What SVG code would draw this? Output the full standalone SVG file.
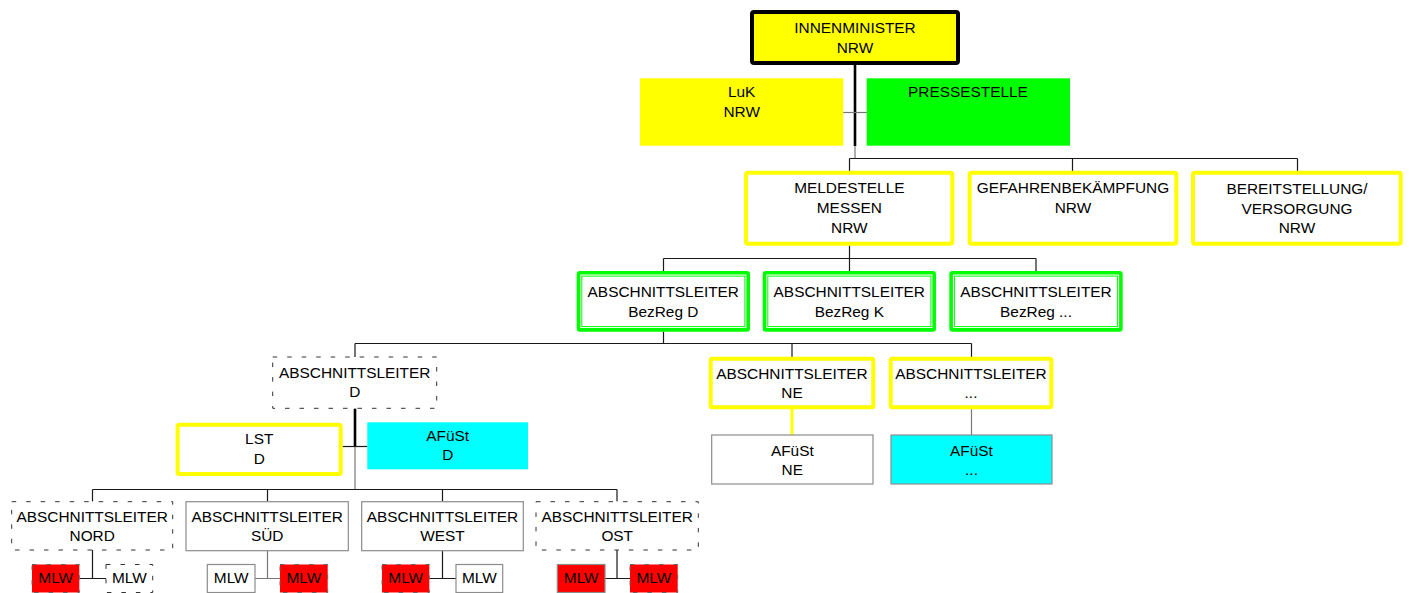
<svg xmlns="http://www.w3.org/2000/svg" width="1409" height="593" viewBox="0 0 1409 593">
  <style>
    text { font-family: "Liberation Sans", Arial, sans-serif; font-size: 15.4px; fill: #000; text-anchor: middle; }
    .ln { stroke: #1a1a1a; stroke-width: 1.2; fill: none; }
    .ln-grey { stroke: #777; stroke-width: 1.2; fill: none; }
    .ln-bold { stroke: #000; stroke-width: 2.6; fill: none; }
    .ln-yellow { stroke: #ffff00; stroke-width: 3; fill: none; }
    .top { fill: #ffff00; stroke: #000; stroke-width: 4; }
    .yellow-fill { fill: #ffff00; }
    .green-fill { fill: #00ff00; }
    .cyan-fill { fill: #00ffff; }
    .yellow-frame { fill: #fff; stroke: #ffff00; stroke-width: 4; }
    .green-outer { fill: #fff; stroke: #00ff00; stroke-width: 3.6; }
    .green-inner { fill: none; stroke: #00ff00; stroke-width: 1; }
    .dashed { fill: #fff; stroke: #333; stroke-width: 1; stroke-dasharray: 4.5 10; }
    .plain { fill: #fff; stroke: #8c8c8c; stroke-width: 1.2; }
    .cyan-box { fill: #00ffff; stroke: #8c8c8c; stroke-width: 1.2; }
    .red-dashed { fill: #ff0000; stroke: #666; stroke-width: 1; stroke-dasharray: 4.5 10; }
    .red-plain { fill: #ff0000; stroke: #8c8c8c; stroke-width: 1.2; }
  </style>

  <!-- connectors -->
  <g id="connectors">
    <!-- minister trunk -->
    <path class="ln-bold" d="M855 65 V146"/>
    <path class="ln-grey" d="M855 146 V158.5"/>
    <path class="ln-grey" d="M843 112.5 H867"/>
    <path class="ln" d="M849.5 158.5 H1297.5 M849.5 158.5 V171 M1072.5 158.5 V171 M1297.5 158.5 V171"/>
    <!-- Meldestelle to district leaders -->
    <path class="ln" d="M849.5 245.5 V258.5 M663.5 258.5 H1036 M663.5 258.5 V271 M849.5 258.5 V271 M1036 258.5 V271"/>
    <!-- BezReg D to section leaders -->
    <path class="ln" d="M663.5 331.5 V343.5 M355 343.5 H971.5 M355 343.5 V357 M792 343.5 V357 M971.5 343.5 V357"/>
    <!-- section D trunk -->
    <path class="ln-bold" d="M355 408.5 V446"/>
    <path class="ln-grey" d="M355 446 V489.5"/>
    <path class="ln" d="M342.5 446.5 H367.5"/>
    <path class="ln" d="M92.5 489.5 H617 M92.5 489.5 V501.5 M267.5 489.5 V501.5 M442.5 489.5 V501.5 M617 489.5 V501.5"/>
    <!-- NE / ... to AFüSt -->
    <path class="ln-yellow" d="M792 409 V435"/>
    <path class="ln-grey" d="M971.5 409 V435"/>
    <!-- sections to MLW -->
    <path class="ln" d="M92.5 550 V578.5 M79.5 578.5 H106"/>
    <path class="ln-grey" d="M267.5 550.5 V578.5 M255 578.5 H280"/>
    <path class="ln" d="M442.5 550.5 V578.5 M429.5 578.5 H456"/>
    <path class="ln" d="M617 550 V578.5 M605 578.5 H630"/>
  </g>

  <g id="innenminister">
    <rect class="top" x="752" y="12" width="206" height="51" rx="2"/>
    <text x="855" y="33.3">INNENMINISTER</text>
    <text x="855" y="53.3">NRW</text>
  </g>

  <g id="luk">
    <rect class="yellow-fill" x="640" y="78.3" width="203.3" height="67.4"/>
    <text x="741.7" y="97.3">LuK</text>
    <text x="741.7" y="117.3">NRW</text>
  </g>

  <g id="pressestelle">
    <rect class="green-fill" x="866.7" y="78.3" width="203.3" height="67.4"/>
    <text x="968" y="97.3">PRESSESTELLE</text>
  </g>

  <g id="meldestelle">
    <rect class="yellow-frame" x="746" y="172.7" width="206.3" height="71" rx="2"/>
    <text x="849.3" y="193">MELDESTELLE</text>
    <text x="849.3" y="213">MESSEN</text>
    <text x="849.3" y="233">NRW</text>
  </g>

  <g id="gefahrenbekaempfung">
    <rect class="yellow-frame" x="969.7" y="172.7" width="206.6" height="71" rx="2"/>
    <text x="1073" y="193">GEFAHRENBEKÄMPFUNG</text>
    <text x="1073" y="213">NRW</text>
  </g>

  <g id="bereitstellung">
    <rect class="yellow-frame" x="1193" y="172.7" width="207.7" height="71" rx="2"/>
    <text x="1297" y="193.5">BEREITSTELLUNG/</text>
    <text x="1297" y="213.5">VERSORGUNG</text>
    <text x="1297" y="233">NRW</text>
  </g>

  <g id="bezreg-d">
    <rect class="green-outer" x="578.5" y="272.8" width="169.7" height="57.1" rx="1.5"/>
    <rect class="green-inner" x="581.8" y="276.1" width="163.1" height="50.5"/>
    <text x="663.3" y="296.7">ABSCHNITTSLEITER</text>
    <text x="663.3" y="316.7">BezReg D</text>
  </g>

  <g id="bezreg-k">
    <rect class="green-outer" x="764.5" y="272.8" width="169.7" height="57.1" rx="1.5"/>
    <rect class="green-inner" x="767.8" y="276.1" width="163.1" height="50.5"/>
    <text x="849.3" y="296.7">ABSCHNITTSLEITER</text>
    <text x="849.3" y="316.7">BezReg K</text>
  </g>

  <g id="bezreg-more">
    <rect class="green-outer" x="951.1" y="272.8" width="169.8" height="57.1" rx="1.5"/>
    <rect class="green-inner" x="954.4" y="276.1" width="163.2" height="50.5"/>
    <text x="1036" y="296.7">ABSCHNITTSLEITER</text>
    <text x="1036" y="316.7">BezReg ...</text>
  </g>

  <g id="abschnitt-d">
    <rect class="dashed" x="272.7" y="357" width="164" height="51.3"/>
    <text x="354.7" y="378.3">ABSCHNITTSLEITER</text>
    <text x="354.7" y="397.3">D</text>
  </g>

  <g id="abschnitt-ne">
    <rect class="yellow-frame" x="710.7" y="358.7" width="162.6" height="48.6" rx="1.5"/>
    <text x="792" y="378.5">ABSCHNITTSLEITER</text>
    <text x="792" y="397.5">NE</text>
  </g>

  <g id="abschnitt-more">
    <rect class="yellow-frame" x="890.7" y="358.7" width="160.6" height="48.6" rx="1.5"/>
    <text x="971" y="378.5">ABSCHNITTSLEITER</text>
    <text x="971" y="397.5">...</text>
  </g>

  <g id="afuest-ne">
    <rect class="plain" x="711.7" y="435" width="161.3" height="49"/>
    <text x="792.3" y="456">AFüSt</text>
    <text x="792.3" y="474.5">NE</text>
  </g>

  <g id="afuest-more">
    <rect class="cyan-box" x="891" y="435" width="161" height="49"/>
    <text x="971.5" y="456">AFüSt</text>
    <text x="971.5" y="474.5">...</text>
  </g>

  <g id="lst-d">
    <rect class="yellow-frame" x="177.7" y="424.7" width="163" height="49.3" rx="1.5"/>
    <text x="259.2" y="444">LST</text>
    <text x="259.2" y="464">D</text>
  </g>

  <g id="afuest-d">
    <rect class="cyan-fill" x="367.3" y="422.3" width="160.7" height="47"/>
    <text x="447.7" y="441">AFüSt</text>
    <text x="447.7" y="460">D</text>
  </g>

  <g id="abschnitt-nord">
    <rect class="dashed" x="11.7" y="501.7" width="161" height="48.3"/>
    <text x="92.2" y="521.7">ABSCHNITTSLEITER</text>
    <text x="92.2" y="540.7">NORD</text>
  </g>

  <g id="abschnitt-sued">
    <rect class="plain" x="186" y="501.7" width="162.3" height="49"/>
    <text x="267.2" y="521.7">ABSCHNITTSLEITER</text>
    <text x="267.2" y="540.7">SÜD</text>
  </g>

  <g id="abschnitt-west">
    <rect class="plain" x="361.7" y="501.7" width="161.6" height="49"/>
    <text x="442.5" y="521.7">ABSCHNITTSLEITER</text>
    <text x="442.5" y="540.7">WEST</text>
  </g>

  <g id="abschnitt-ost">
    <rect class="dashed" x="536" y="501.7" width="162.3" height="48.3"/>
    <text x="617.2" y="521.7">ABSCHNITTSLEITER</text>
    <text x="617.2" y="540.7">OST</text>
  </g>

  <!-- MLW units -->
  <g id="mlw-nord-1">
    <rect class="red-dashed" x="32" y="564.5" width="47.3" height="28"/>
    <text x="55.7" y="583.3">MLW</text>
  </g>
  <g id="mlw-nord-2">
    <rect class="dashed" x="106" y="564.5" width="46.7" height="28"/>
    <text x="129.3" y="583.3">MLW</text>
  </g>
  <g id="mlw-sued-1">
    <rect class="plain" x="207.3" y="564.5" width="47.7" height="28"/>
    <text x="231.2" y="583.3">MLW</text>
  </g>
  <g id="mlw-sued-2">
    <rect class="red-dashed" x="280" y="564.5" width="47.7" height="28"/>
    <text x="303.8" y="583.3">MLW</text>
  </g>
  <g id="mlw-west-1">
    <rect class="red-dashed" x="382" y="564.5" width="47.3" height="28"/>
    <text x="405.7" y="583.3">MLW</text>
  </g>
  <g id="mlw-west-2">
    <rect class="plain" x="456" y="564.5" width="46.7" height="28"/>
    <text x="479.3" y="583.3">MLW</text>
  </g>
  <g id="mlw-ost-1">
    <rect class="red-plain" x="557.3" y="564.5" width="47.7" height="28"/>
    <text x="581.2" y="583.3">MLW</text>
  </g>
  <g id="mlw-ost-2">
    <rect class="red-dashed" x="630" y="564.5" width="47.7" height="28"/>
    <text x="653.8" y="583.3">MLW</text>
  </g>
</svg>
